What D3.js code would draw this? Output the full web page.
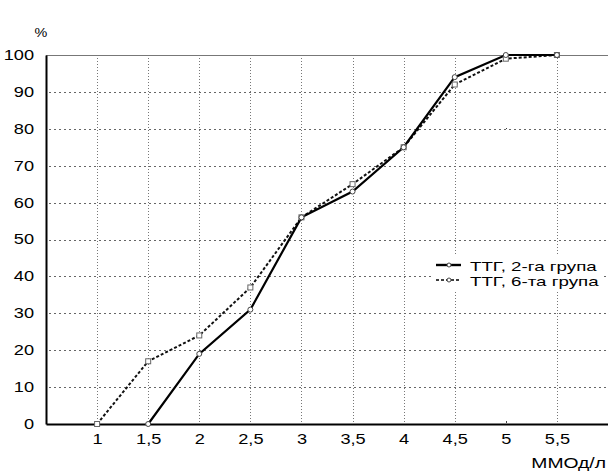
<!DOCTYPE html>
<html>
<head>
<meta charset="utf-8">
<script src="https://cdn.jsdelivr.net/npm/d3@7/dist/d3.min.js"></script>
<style>
  html, body { margin: 0; padding: 0; background: #fff; }
  svg { display: block; font-family: "Liberation Sans", Arial, sans-serif; }
</style>
</head>
<body>
<svg id="chart" width="608" height="471"></svg>
<script>
// Concentration thresholds, mmol/l
const xValues = [1, 1.5, 2, 2.5, 3, 3.5, 4, 4.5, 5, 5.5];
// Cumulative share of patients, %
const group2 = [null, 0, 19, 31, 56, 63, 75, 94, 100, 100];
const group6 = [0, 17, 24, 37, 56, 65, 75, 92, 99, 100];
const seriesNames = ["ТТГ, 2-га група", "ТТГ, 6-та група"];
const yTicks = [0, 10, 20, 30, 40, 50, 60, 70, 80, 90, 100];
const xTickLabels = ["1", "1,5", "2", "2,5", "3", "3,5", "4", "4,5", "5", "5,5"];
const xGridValues = [1, 1.5, 2, 2.5, 3, 3.5, 4, 4.5, 5.5];

const svg = d3.select("#chart");
const x = d3.scaleLinear().domain([0.5, 6]).range([46, 608]);
const y = d3.scaleLinear().domain([0, 100]).range([424, 55]);
const SX = 1.3; // horizontal stretch of the lettering

// text drawn at an anchor point and widened horizontally
function label(parent, px, py, str, size, anchor, sx) {
  return parent.append("text")
    .attr("transform", `translate(${px},${py}) scale(${sx || SX},1)`)
    .attr("text-anchor", anchor || "start")
    .attr("font-size", size)
    .attr("fill", "#000")
    .text(str);
}

// dotted grid
const grid = svg.append("g");
grid.selectAll("line.v").data(xGridValues).enter().append("line")
  .attr("x1", d => Math.round(x(d)) + 0.5).attr("x2", d => Math.round(x(d)) + 0.5)
  .attr("y1", y(100)).attr("y2", y(0))
  .attr("stroke", "#777").attr("stroke-width", 1).attr("stroke-dasharray", "1,2");
grid.selectAll("line.h").data(yTicks.filter(d => d > 0 && d < 100)).enter().append("line")
  .attr("x1", x(0.5) + 3).attr("x2", 608)
  .attr("y1", d => Math.round(y(d)) + 0.5).attr("y2", d => Math.round(y(d)) + 0.5)
  .attr("stroke", "#666").attr("stroke-width", 1).attr("stroke-dasharray", "2,3");

// top frame line at 100 %
svg.append("line")
  .attr("x1", x(0.5)).attr("x2", 608)
  .attr("y1", Math.round(y(100)) + 0.5).attr("y2", Math.round(y(100)) + 0.5)
  .attr("stroke", "#777").attr("stroke-width", 1.2);

// small tick where the 5 mmol/l grid line is absent
svg.append("rect").attr("x", Math.round(x(5))).attr("y", y(0) - 3).attr("width", 1).attr("height", 2).attr("fill", "#444");
svg.append("rect").attr("x", Math.round(x(5))).attr("y", 128).attr("width", 1).attr("height", 1).attr("fill", "#444");

// axes
const yAxis = d3.axisLeft(y).tickValues(yTicks).tickSize(0).tickPadding(12);
const gy = svg.append("g").attr("transform", `translate(${x(0.5)},0)`).call(yAxis);
gy.select(".domain").attr("stroke", "#000").attr("stroke-width", 2);
gy.selectAll("text").attr("font-size", 14).attr("fill", "#000")
  .attr("font-family", "Liberation Sans, Arial, sans-serif")
  .attr("x", -12 / SX).attr("transform", `scale(${SX},1)`);

const xAxis = d3.axisBottom(x).tickValues(xValues).tickSize(0).tickPadding(10)
  .tickFormat((d, i) => xTickLabels[i]);
const gx = svg.append("g").attr("transform", `translate(0,${y(0)})`).call(xAxis);
gx.select(".domain").attr("stroke", "#000").attr("stroke-width", 2.2);
gx.selectAll("text").attr("font-size", 14).attr("fill", "#000")
  .attr("font-family", "Liberation Sans, Arial, sans-serif")
  .attr("transform", `scale(${SX},1)`);

// axis captions
label(svg, 41, 37, "%", 12, "middle", 1.2);
label(svg, 606, 468, "ММОд/л", 14, "end", 1.38);

// lines
const line = d3.line().defined(d => d.v !== null).x(d => x(d.x)).y(d => y(d.v));
const pts2 = xValues.map((v, i) => ({ x: v, v: group2[i] }));
const pts6 = xValues.map((v, i) => ({ x: v, v: group6[i] }));

svg.append("path").datum(pts6).attr("d", line)
  .attr("fill", "none").attr("stroke", "#111").attr("stroke-width", 2)
  .attr("stroke-dasharray", "3,2");
svg.append("path").datum(pts2).attr("d", line)
  .attr("fill", "none").attr("stroke", "#000").attr("stroke-width", 2.2);

// markers
svg.append("g").selectAll("rect").data(pts6.filter(d => d.v !== null)).enter().append("rect")
  .attr("x", d => x(d.x) - 2.5).attr("y", d => y(d.v) - 2.5)
  .attr("width", 5).attr("height", 5)
  .attr("fill", "#fff").attr("stroke", "#666").attr("stroke-width", 1);
svg.append("g").selectAll("circle").data(pts2.filter(d => d.v !== null)).enter().append("circle")
  .attr("cx", d => x(d.x)).attr("cy", d => y(d.v)).attr("r", 2.5)
  .attr("fill", "#fff").attr("stroke", "#444").attr("stroke-width", 1);

// legend
const lg = svg.append("g");
lg.append("rect").attr("x", 432).attr("y", 256).attr("width", 172).attr("height", 36).attr("fill", "#fff");
const legendRows = [
  { name: seriesNames[0], dash: null, y: 265 },
  { name: seriesNames[1], dash: "3,2", y: 280 }
];
legendRows.forEach(r => {
  lg.append("line").attr("x1", 436).attr("x2", 461).attr("y1", r.y).attr("y2", r.y)
    .attr("stroke", "#000").attr("stroke-width", r.dash ? 1.6 : 2.4)
    .attr("stroke-dasharray", r.dash);
  lg.append("circle").attr("cx", 449).attr("cy", r.y).attr("r", 2)
    .attr("fill", "#fff").attr("stroke", "#444").attr("stroke-width", 1);
  label(lg, 470, r.y + 6, r.name, 13, "start", 1.44);
});
</script>
</body>
</html>
